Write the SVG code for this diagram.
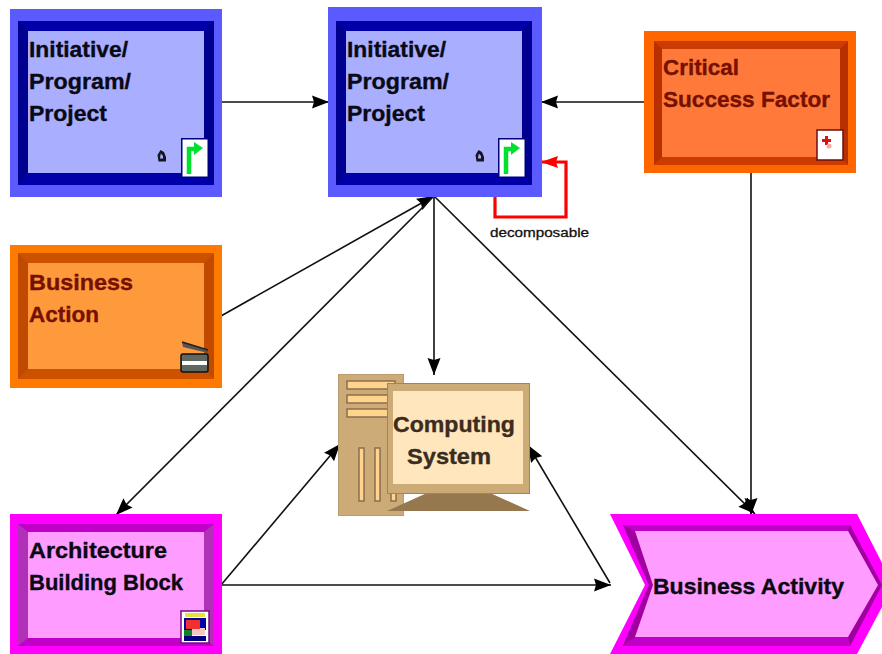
<svg xmlns="http://www.w3.org/2000/svg" width="882" height="654" viewBox="0 0 882 654">
<style>
text{font-family:"Liberation Sans",Arial,sans-serif;font-weight:bold;font-size:22px;stroke-width:.35px}
.bk{fill:#0a0a14;stroke:#0a0a14}.rd{fill:#761000;stroke:#761000}.cs{fill:#3a2c20;stroke:#3a2c20}
.c{fill:none;stroke:#111;stroke-width:1.6}
.sm{font-size:12.5px;font-weight:normal;fill:#111;stroke:#111;stroke-width:.3px}
</style>
<defs>
<marker id="ah" markerUnits="userSpaceOnUse" markerWidth="22" markerHeight="16" refX="20" refY="8" orient="auto" overflow="visible">
<path d="M20,8 L3,1.5 L5,8 L3,14.5Z" fill="#000"/>
</marker>
<marker id="ahr" markerUnits="userSpaceOnUse" markerWidth="22" markerHeight="16" refX="20" refY="8" orient="auto" overflow="visible">
<path d="M20,8 L3,2 L5,8 L3,14Z" fill="#f00"/>
</marker>
<g id="initIcon">
<rect x="0.75" y="0.75" width="26.5" height="38.5" fill="#fff" stroke="#000080" stroke-width="1.5"/>
<path d="M8,36V11H14" fill="none" stroke="#00e030" stroke-width="4.5"/>
<path d="M13,4 L22,10 L13,17Z" fill="#00e030"/>
</g>
<g id="zero"><path d="M3.5,0 L7,2 L9,7 L9,11.5 L1.5,11.5 L0.5,5Z M3.8,3.5 L3,8.5 L6,8.5 L6,6Z" fill="#151520" fill-rule="evenodd"/></g>
</defs>

<g id="connectors">
<path class="c" d="M221,102H329" marker-end="url(#ah)"/>
<path class="c" d="M646,102H541" marker-end="url(#ah)"/>
<path class="c" d="M221,316L434,196" marker-end="url(#ah)"/>
<path class="c" d="M434,196L116,515" marker-end="url(#ah)"/>
<path class="c" d="M434,196V375" marker-end="url(#ah)"/>
<path class="c" d="M434,196L755,514" marker-end="url(#ah)"/>
<path class="c" d="M751,173V515" stroke-width="2" marker-end="url(#ah)"/>
<path class="c" d="M221,585L340,444" marker-end="url(#ah)"/>
<path class="c" d="M221,585H611" marker-end="url(#ah)"/>
<path class="c" d="M610,583L528,445" marker-end="url(#ah)"/>
<path d="M495,194V217H566V162H541" fill="none" stroke="#f00" stroke-width="3.2" marker-end="url(#ahr)"/>
<text class="sm" x="490" y="237" textLength="99" lengthAdjust="spacingAndGlyphs">decomposable</text>
</g>

<g id="node-initiative-1">
<rect x="10" y="9" width="212" height="188" fill="#5a5aff"/>
<rect x="18" y="21" width="196" height="164" fill="#0000a8"/>
<path d="M18,21L28,31V173L18,185Z M214,21L204,31V173L214,185Z" fill="#000090"/>
<rect x="28" y="31" width="176" height="142" fill="#aaaeff"/>
<text class="bk" x="29" y="57" textLength="99" lengthAdjust="spacingAndGlyphs">Initiative/</text>
<text class="bk" x="29" y="89" textLength="102" lengthAdjust="spacingAndGlyphs">Program/</text>
<text class="bk" x="29" y="121" textLength="78" lengthAdjust="spacingAndGlyphs">Project</text>
<use href="#zero" x="157" y="150"/>
<use href="#initIcon" x="181" y="138"/>
</g>

<g id="node-initiative-2">
<rect x="328" y="7" width="214" height="190" fill="#5a5aff"/>
<rect x="336" y="21" width="196" height="164" fill="#0000a8"/>
<path d="M336,21L346,31V173L336,185Z M532,21L522,31V173L532,185Z" fill="#000090"/>
<rect x="346" y="31" width="176" height="142" fill="#aaaeff"/>
<text class="bk" x="347" y="57" textLength="99" lengthAdjust="spacingAndGlyphs">Initiative/</text>
<text class="bk" x="347" y="89" textLength="102" lengthAdjust="spacingAndGlyphs">Program/</text>
<text class="bk" x="347" y="121" textLength="78" lengthAdjust="spacingAndGlyphs">Project</text>
<use href="#zero" x="475" y="150"/>
<use href="#initIcon" x="498" y="138"/>
</g>

<g id="node-csf">
<rect x="644" y="31" width="212" height="142" fill="#ff6600"/>
<rect x="654" y="41" width="194" height="124" fill="#cc3c00"/>
<path d="M654,41L662,49V157L654,165Z M848,41L840,49V157L848,165Z" fill="#b83000"/>
<rect x="662" y="49" width="178" height="108" fill="#ff7a3a"/>
<text class="rd" x="663" y="75" textLength="76" lengthAdjust="spacingAndGlyphs">Critical</text>
<text class="rd" x="663" y="107" textLength="167" lengthAdjust="spacingAndGlyphs">Success Factor</text>
<rect x="817" y="130" width="26" height="30" fill="#fff" stroke="#6a1010" stroke-width="1.5"/>
<path d="M825,136h3v3h3v3h-3v3h-3v-3h-3v-3h3Z" fill="#e01010"/>
<circle cx="829" cy="146" r="2.5" fill="#f5a8a8"/>
</g>

<g id="node-business-action">
<rect x="10" y="245" width="212" height="143" fill="#ff7a00"/>
<rect x="18" y="253" width="196" height="126" fill="#cc5200"/>
<path d="M18,253L28,263V369L18,379Z M214,253L204,263V369L214,379Z" fill="#c04a00"/>
<rect x="28" y="263" width="176" height="106" fill="#ff9a3c"/>
<text class="rd" x="29" y="290" textLength="104" lengthAdjust="spacingAndGlyphs">Business</text>
<text class="rd" x="29" y="322" textLength="70" lengthAdjust="spacingAndGlyphs">Action</text>
<path d="M182,342L208,350V353L183,347Z" fill="#555"/>
<path d="M182,342L208,350" stroke="#222" stroke-width="1.5" fill="none"/>
<rect x="181" y="354" width="27" height="18" rx="2" fill="#606862" stroke="#111" stroke-width="1.5"/>
<rect x="182" y="361" width="25" height="4" fill="#fff"/>
</g>

<g id="node-computing-system">
<rect x="338.5" y="374.5" width="65" height="141" fill="#cdab76" stroke="#b89c70"/>
<g fill="#ffd48c" stroke="#8c6e50" stroke-width="1.5">
<rect x="347" y="381" width="48" height="8"/>
<rect x="347" y="395" width="48" height="8"/>
<rect x="347" y="409" width="48" height="8"/>
<rect x="359" y="448" width="5" height="53"/>
<rect x="375" y="448" width="5" height="53"/>
<rect x="391" y="448" width="5" height="53"/>
</g>
<path d="M427,493H490L530,511H387Z" fill="#96784f"/>
<rect x="387.5" y="383.5" width="142" height="110" fill="#cdab76" stroke="#9c8468"/>
<rect x="393" y="391" width="130" height="93" fill="#ffe6bc"/>
<text class="cs" x="393" y="432" textLength="122" lengthAdjust="spacingAndGlyphs">Computing</text>
<text class="cs" x="407" y="464" textLength="84" lengthAdjust="spacingAndGlyphs">System</text>
</g>

<g id="node-abb">
<rect x="10" y="514" width="212" height="140" fill="#ff00ff"/>
<rect x="18" y="524" width="196" height="122" fill="#c000c8"/>
<path d="M18,524L28,532V638L18,646Z M214,524L204,532V638L214,646Z" fill="#b030b8"/>
<rect x="28" y="532" width="176" height="106" fill="#ff9cff"/>
<text class="bk" x="29" y="558" textLength="138" lengthAdjust="spacingAndGlyphs">Architecture</text>
<text class="bk" x="29" y="590" textLength="154" lengthAdjust="spacingAndGlyphs">Building Block</text>
<rect x="181" y="611" width="28" height="32" fill="#fff" stroke="#70107a" stroke-width="1.5"/>
<rect x="185" y="613" width="20" height="4" fill="#e8e040"/>
<rect x="184" y="618" width="22" height="12" fill="#0000a0"/>
<rect x="184" y="630" width="8" height="6" fill="#108030"/>
<rect x="192" y="628" width="13" height="7" fill="#f8c8c0"/>
<rect x="186" y="620" width="14" height="9" fill="#f03030"/>
<rect x="184" y="636" width="22" height="5" fill="#000080"/>
</g>

<g id="node-business-activity">
<path d="M610,514H857L882,563V607L857,654H610L645,585Z" fill="#ff00ff"/>
<path d="M623,525H850L882,585L850,646H623L649,585Z" fill="#c000c8"/>
<path d="M623,525L635,531L653,585L635,637L623,646L649,585Z M850,525L848,531L878,585L848,637L850,646L882,585Z" fill="#a000a0"/>
<path d="M635,531H848L878,585L848,637H635L653,585Z" fill="#ff9cff"/>
<text class="bk" x="653" y="594" textLength="191" lengthAdjust="spacingAndGlyphs">Business Activity</text>
</g>
</svg>
